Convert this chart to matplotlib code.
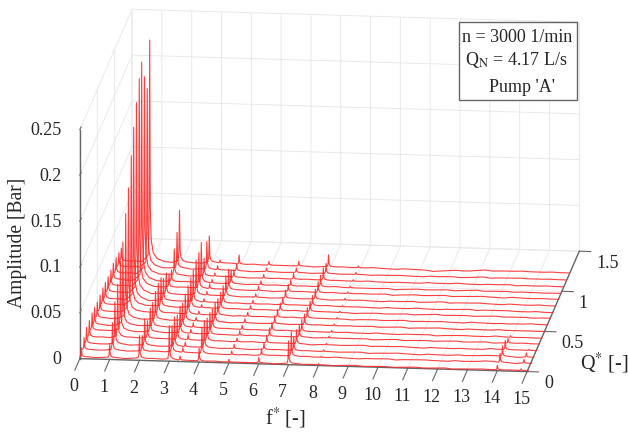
from matplotlib import pyplot as plt
from matplotlib.patches import Rectangle
from mpl_toolkits.mplot3d import proj3d

plt.rcParams['font.family'] = ['Liberation Serif', 'DejaVu Serif']
plt.rcParams['mathtext.fontset'] = 'stix'

# flow rate of every trace, front to back
q_values = [0.0, 0.08, 0.15, 0.23, 0.31, 0.38, 0.46, 0.54, 0.62, 0.69, 0.77, 0.85, 0.92, 1.0, 1.08, 1.15]

# peak amplitudes read per frequency, one value per trace
peak_f0 = [.012, .016, .021, .0215, .0225, .0224, .0215, .022, .023, .023, .022, .022, .0235, .0225, .021, .020]
peak_f1 = [.017, .033, .050, .062, .080, .095, .119, .140, .168, .193, .213, .232, .244, .221, .201, .248]
peak_f2 = [.027, .020, .032, .023, .030, .030, .035, .037, .036, .029, .028, .020, .018, .034, .045, .063]
peak_f3 = [.039, .032, .035, .030, .033, .030, .033, .035, .037, .039, .043, .044, .049, .025, .036, .036]
peak_f34 = [.006, .008, .008, .009, .008, .009, .008, .008, .008, .008, .009, .010, .009, .009, .010, .010]
peak_f4 = [.015, .031, .032, .028, .027, .025, .025, .022, .022, .023, .027, .027, .020, .013, .013, .016]
peak_f5 = [.004, .006, .007, .007, .008, .008, .008, .008, .008, .008, .008, .009, .009, .009, .009, .010]
peak_f6 = [.007, .009, .010, .011, .012, .012, .012, .012, .012, .012, .013, .012, .011, .011, .010, .011]
peak_f7 = [.026, .029, .017, .018, .016, .016, .015, .015, .015, .015, .015, .016, .017, .018, .016, .019]
peak_f8 = [.002, .003, .004, .004, .005, .005, .005, .005, .005, .005, .006, .006, .006, .006, .007, .008]
peak_f14 = [.006, .012, .014, .013, .008, .005, 0, 0, 0, 0, 0, 0, 0, 0, 0, 0]
peak_f15 = [.003, .006, .007, .004, 0, 0, 0, 0, 0, 0, 0, 0, 0, 0, 0, 0]

peak_centers = [0.05, 1, 2, 3, 3.36, 4, 5, 6, 7, 8, 14, 14.8]
peak_table = [peak_f0, peak_f1, peak_f2, peak_f3, peak_f34, peak_f4, peak_f5, peak_f6, peak_f7, peak_f8, peak_f14, peak_f15]

# spectrum floor of every trace at f = 0.5, 1.5 ... 14.5
base_f = [0.5, 1.5, 2.5, 3.5, 4.5, 5.5, 6.5, 7.5, 8.5, 9.5, 10.5, 11.5, 12.5, 13.5, 14.5]
base_levels = [
    [.0020, .0020, .0020, .0015, .0010, .0010, .0010, .0010, .0008, .0008, .0008, .0008, .0008, .0010, .0010],
    [.0030, .0030, .0030, .0030, .0020, .0020, .0025, .0020, .0020, .0020, .0020, .0020, .0020, .0030, .0020],
    [.0035, .0035, .0030, .0030, .0025, .0025, .0025, .0022, .0022, .0020, .0022, .0022, .0022, .0030, .0025],
    [.0035, .0040, .0040, .0035, .0030, .0030, .0028, .0025, .0025, .0025, .0025, .0025, .0025, .0030, .0028],
    [.0040, .0040, .0040, .0035, .0030, .0030, .0030, .0030, .0030, .0028, .0028, .0030, .0030, .0030, .0030],
    [.0040, .0045, .0040, .0040, .0035, .0032, .0032, .0030, .0030, .0030, .0032, .0030, .0032, .0035, .0032],
    [.0045, .0045, .0045, .0040, .0035, .0035, .0035, .0032, .0032, .0032, .0032, .0035, .0035, .0035, .0035],
    [.0045, .0050, .0045, .0040, .0040, .0035, .0035, .0035, .0035, .0035, .0035, .0035, .0038, .0035, .0038],
    [.0050, .0050, .0045, .0045, .0040, .0040, .0038, .0038, .0035, .0035, .0038, .0040, .0040, .0040, .0040],
    [.0050, .0050, .0050, .0045, .0040, .0040, .0040, .0040, .0038, .0038, .0040, .0042, .0045, .0042, .0040],
    [.0055, .0055, .0050, .0050, .0045, .0042, .0042, .0040, .0040, .0040, .0042, .0045, .0045, .0045, .0042],
    [.0055, .0055, .0055, .0050, .0045, .0045, .0045, .0042, .0042, .0042, .0045, .0045, .0048, .0048, .0045],
    [.0060, .0055, .0055, .0050, .0050, .0045, .0045, .0045, .0042, .0042, .0045, .0048, .0050, .0050, .0048],
    [.0060, .0060, .0055, .0055, .0050, .0048, .0048, .0045, .0045, .0045, .0048, .0050, .0052, .0052, .0050],
    [.0060, .0060, .0060, .0055, .0050, .0050, .0050, .0048, .0048, .0048, .0050, .0050, .0055, .0055, .0055],
    [.0060, .0060, .0060, .0070, .0060, .0060, .0060, .0060, .0060, .0060, .0050, .0060, .0070, .0070, .0070],
]

# small roughness read from the flat part of the traces
ripple = [.0004, -.0003, .0006, -.0005, .0002, .0005, -.0006, .0003, -.0002, .0006, -.0004, .0001,
          .0005, -.0006, .0004, -.0001, .0003, -.0005, .0006, -.0003, .0002, -.0004, .0005, -.0002,
          .0006, -.0005, .0001, .0004, -.0006, .0003]

# shape of one spike: distance from its centre, share of its height
spike_df = [-0.05, -0.02, 0, 0.02, 0.05, 0.12, 0.25]
spike_share = [0.03, 0.2, 1, 0.25, 0.1, 0.04, 0.015]

f_ticks = list(range(16))
q_ticks = [0, 0.5, 1, 1.5]
q_tick_labels = ['0', '0.5', '1', '1.5']
z_ticks = [0, 0.05, 0.1, 0.15, 0.2, 0.25]
z_tick_labels = ['0', '0.05', '0.1', '0.15', '0.2', '0.25']

W, H = 628, 432
TXT = '#262626'
fig = plt.figure(figsize=(W / 100, H / 100), dpi=100)
ax = fig.add_axes([-15 / W, -103 / H, 671 / W, 671 / H], projection='3d', proj_type='ortho')
ax.view_init(elev=15, azim=-83.6)
ax.set_box_aspect((450, 468, 237), zoom=1)
ax.set_xlim(0, 15, view_margin=0)
ax.set_ylim(0, 1.5, view_margin=0)
ax.set_zlim(0, 0.25, view_margin=0)
ax.patch.set_alpha(0)

ax.set_xticks(f_ticks)
ax.set_yticks(q_ticks)
ax.set_zticks(z_ticks)
ax.set_xticklabels([])
ax.set_yticklabels([])
ax.set_zticklabels([])
ax.zaxis.set_ticks_position('lower')

# x and y ticks leave the box on the "inward" side of mplot3d here
tick_in = {ax.xaxis: 1.2, ax.yaxis: 0.32, ax.zaxis: 0}
tick_out = {ax.xaxis: 0, ax.yaxis: 0, ax.zaxis: 0.3}
for axis in (ax.xaxis, ax.yaxis, ax.zaxis):
    axis.set_pane_color((1, 1, 1, 0))
    axis.pane.set_edgecolor('#dedede')
    axis.pane.set_linewidth(0.8)
    axis.line.set_color('#666666')
    axis.line.set_linewidth(1.0)
    axis._axinfo['grid'].update(color='#e9e9e9', linewidth=0.7)
    axis._axinfo['tick'].update(inward_factor=tick_in[axis], outward_factor=tick_out[axis])
ax.tick_params(axis='both', color='#666666', width=0.9)

for i, q in enumerate(q_values):
    pts = [(0.0, base_levels[i][0])]
    n = 0
    for k, fb in enumerate(base_f):
        for off, rip in ((-0.25, ripple[(n + 7 * i) % 30]), (0, ripple[(n + 1 + 7 * i) % 30]), (0.25, 0)):
            pts.append((fb + off, base_levels[i][k] + rip))
        n += 2
    # take out floor points that sit inside a spike
    pts = [p for p in pts if not any(c - 0.05 <= p[0] <= c + 0.25 for c in peak_centers)]
    for c, col in zip(peak_centers, peak_table):
        b = base_levels[i][min(int(c), 14)]
        h = max(col[i], b)
        for df, share in zip(spike_df, spike_share):
            pts.append((c + df, b + share * (h - b)))
    pts.append((15.0, base_levels[i][14]))
    pts.sort()
    ax.plot([p[0] for p in pts], [q] * len(pts), [p[1] for p in pts], color='#ff2a2a', lw=0.8, alpha=0.9)


def label_3d(x, y, z, s, **kw):
    # projected by hand so the text stays an ordinary 2D text of the axes
    px, py, _ = proj3d.proj_transform(x, y, z, ax.get_proj())
    ax.text2D(px, py, s, transform=ax.transData, va='center', fontsize=13, color=TXT, **kw)


for f in f_ticks:
    label_3d(f, -0.17, -0.0157, str(f), ha='center')
for q, s in zip(q_ticks, q_tick_labels):
    label_3d(15.57, q, -0.0125, s, ha='left')
for z, s in zip(z_ticks, z_tick_labels):
    label_3d(-0.62, 0, z - 0.0016, s, ha='right')

fig.text(18 / W, 1 - 243 / H, 'Amplitude [Bar]', rotation=90, ha='center', va='center', fontsize=14.1, color=TXT)
fig.text(285 / W, 1 - 418 / H, r'f$^{*}$ [-]', ha='center', va='center', fontsize=14.5, color=TXT)
fig.text(580 / W, 1 - 363 / H, r'Q$^{*}$ [-]', ha='left', va='center', fontsize=14.5, color=TXT)

fig.add_artist(Rectangle((459 / W, 1 - 100 / H), 118 / W, 78 / H, transform=fig.transFigure,
                         facecolor='white', edgecolor='#666666', lw=1.0))
fig.text(517 / W, 1 - 38 / H, 'n = 3000 1/min', ha='center', va='center', fontsize=13, color=TXT)
fig.text(516 / W, 1 - 60 / H, r'Q$_{\mathrm{N}}$ = 4.17 L/s', ha='center', va='center', fontsize=13, color=TXT)
fig.text(522 / W, 1 - 87 / H, "Pump 'A'", ha='center', va='center', fontsize=13, color=TXT)

plt.savefig('out.png', dpi=100)
